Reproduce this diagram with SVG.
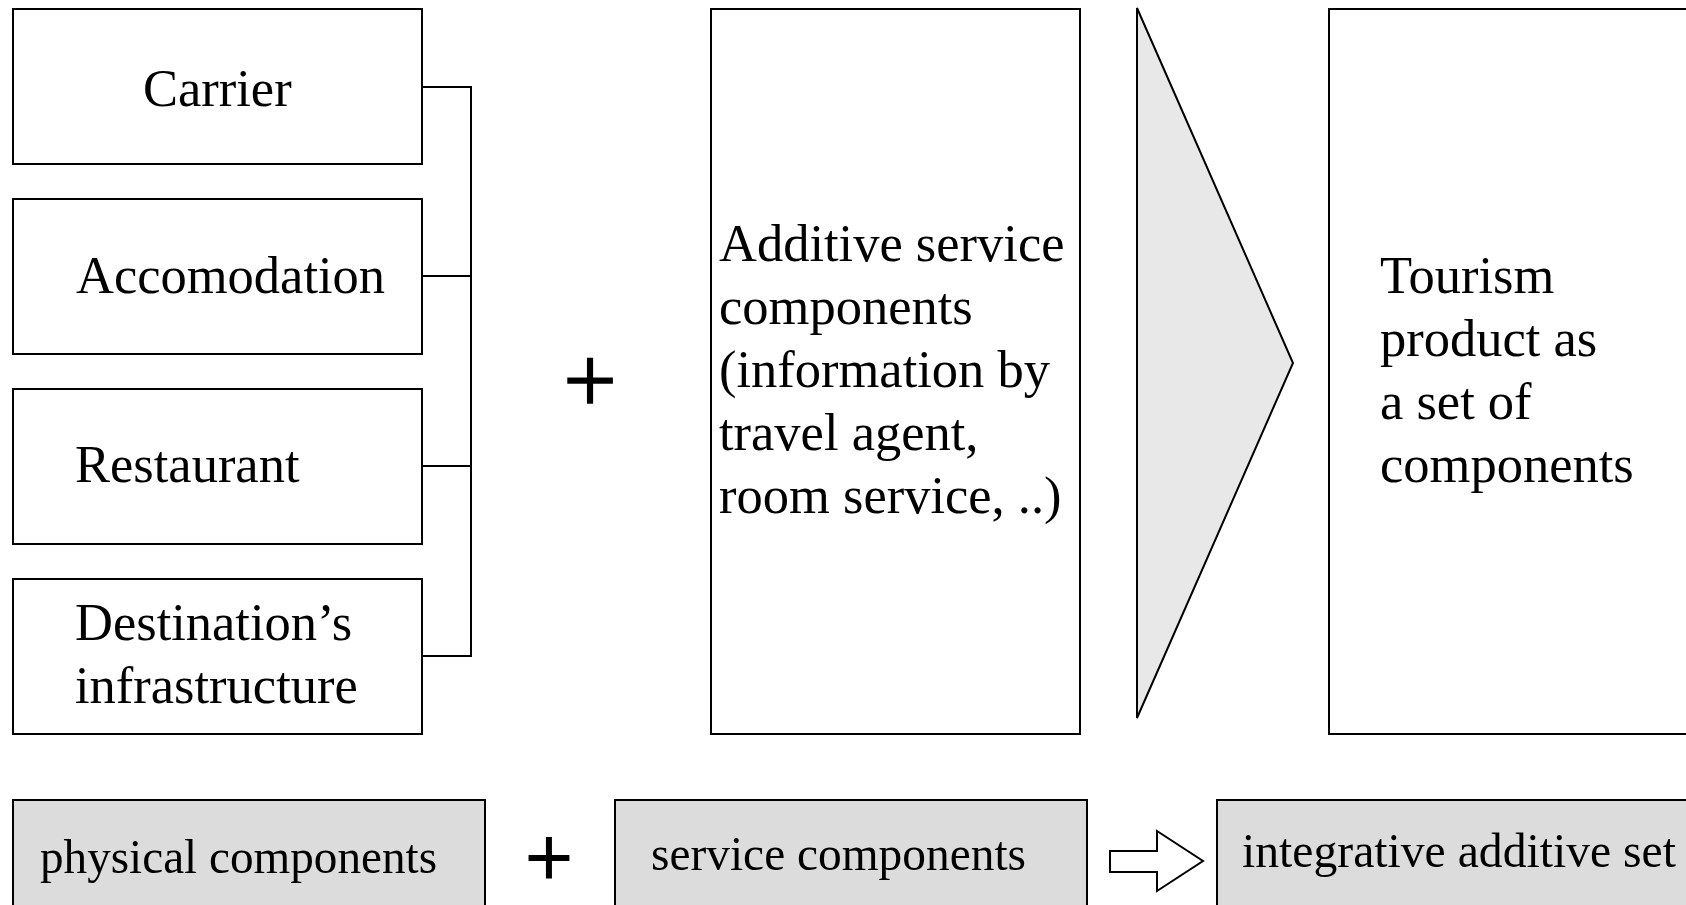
<svg xmlns="http://www.w3.org/2000/svg" width="1686" height="905" viewBox="0 0 1686 905">
  <style>
    .box { fill: #ffffff; stroke: #000000; stroke-width: 2; }
    .gbox { fill: #dcdcdc; stroke: #000000; stroke-width: 2; }
    .lbl { font-family: "Liberation Serif", "Times New Roman", serif; font-size: 52.5px; fill: #000000; }
    .txt { font-family: "Liberation Serif", "Times New Roman", serif; font-size: 52.5px; fill: #000000; }
    .small { font-family: "Liberation Serif", "Times New Roman", serif; font-size: 49px; fill: #000000; }
    .plus { font-family: "Liberation Serif", "Times New Roman", serif; fill: #000000; stroke: #000000; text-anchor: middle; }
    .wire { fill: none; stroke: #000000; stroke-width: 2; }
  </style>
  <rect width="1686" height="905" fill="#ffffff"/>

  <!-- physical component boxes -->
  <g id="carrier">
    <rect class="box" x="13" y="9" width="409" height="155"/>
    <text class="lbl" x="143" y="106">Carrier</text>
  </g>
  <g id="accomodation">
    <rect class="box" x="13" y="199" width="409" height="155"/>
    <text class="lbl" x="76" y="293">Accomodation</text>
  </g>
  <g id="restaurant">
    <rect class="box" x="13" y="389" width="409" height="155"/>
    <text class="lbl" x="75" y="482">Restaurant</text>
  </g>
  <g id="destination">
    <rect class="box" x="13" y="579" width="409" height="155"/>
    <text class="lbl" x="75" y="640">Destination’s</text>
    <text class="lbl" x="75" y="703">infrastructure</text>
  </g>

  <!-- bracket joining the four boxes -->
  <g id="connectors">
    <path class="wire" d="M422,87 H471 M422,276 H471 M422,466 H471 M422,656 H471 M471,86 V657"/>
  </g>

  <g id="plus-top">
    <text class="plus" x="590" y="412" font-size="95" stroke-width="1.4">+</text>
  </g>

  <g id="additive">
    <rect class="box" x="711" y="9" width="369" height="725"/>
    <text class="txt" x="719" y="261">Additive service</text>
    <text class="txt" x="719" y="324">components</text>
    <text class="txt" x="719" y="387">(information by</text>
    <text class="txt" x="719" y="450">travel agent,</text>
    <text class="txt" x="719" y="513">room service, ..)</text>
  </g>

  <g id="result-arrow">
    <polygon points="1137,8 1293,363 1137,718" fill="#e8e8e8" stroke="#000000" stroke-width="2" stroke-linejoin="miter"/>
  </g>

  <g id="tourism-product">
    <rect class="box" x="1329" y="9" width="400" height="725"/>
    <text class="txt" x="1380" y="293">Tourism</text>
    <text class="txt" x="1380" y="356">product as</text>
    <text class="txt" x="1380" y="419">a set of</text>
    <text class="txt" x="1380" y="482">components</text>
  </g>

  <!-- summary row -->
  <g id="physical-components">
    <rect class="gbox" x="13" y="800" width="472" height="130"/>
    <text class="small" x="40" y="873" textLength="397" lengthAdjust="spacingAndGlyphs">physical components</text>
  </g>
  <g id="plus-bottom">
    <text class="plus" x="549" y="886" font-size="84" stroke-width="1.8">+</text>
  </g>
  <g id="service-components">
    <rect class="gbox" x="615" y="800" width="472" height="130"/>
    <text class="small" x="651" y="870" textLength="375" lengthAdjust="spacingAndGlyphs">service components</text>
  </g>
  <g id="hollow-arrow">
    <polygon points="1110,851 1157,851 1157,831 1203,861 1157,891 1157,872 1110,872" fill="#ffffff" stroke="#000000" stroke-width="2"/>
  </g>
  <g id="integrative-set">
    <rect class="gbox" x="1217" y="800" width="500" height="130"/>
    <text class="small" x="1242" y="867" textLength="434" lengthAdjust="spacingAndGlyphs">integrative additive set</text>
  </g>
</svg>
